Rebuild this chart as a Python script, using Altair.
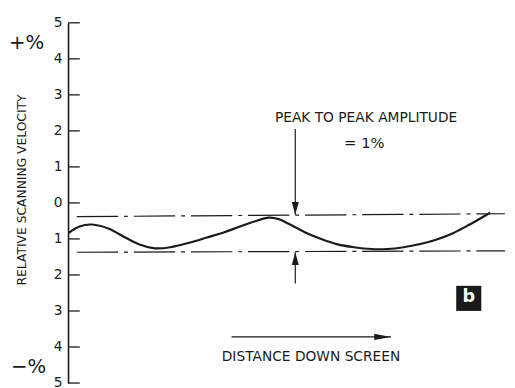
import altair as alt
import pandas as pd

# ---- data ----
y_ticks = [-5, -4, -3, -2, -1, 0, 1, 2, 3, 4, 5]
curve_x = [0.2, 2.5, 5.4, 9.2, 13.1, 16.7, 19.8, 23.4, 27.9, 31.8, 35.6, 39.2,
           43.0, 45.9, 48.2, 50.5, 54.3, 58.1, 61.7, 65.5, 69.4, 73.0, 76.8,
           80.6, 84.2, 88.1, 91.9, 95.5, 96.6]
curve_y = [-0.83, -0.66, -0.60, -0.71, -0.96, -1.17, -1.26, -1.23, -1.10, -0.96,
           -0.82, -0.66, -0.50, -0.41, -0.45, -0.58, -0.82, -1.01, -1.15, -1.23,
           -1.28, -1.28, -1.23, -1.14, -1.02, -0.84, -0.60, -0.35, -0.27]
band_x1 = [2, 2]
band_x2 = [100, 100]
band_y1 = [-0.38, -1.37]
band_y2 = [-0.30, -1.33]
y_title = "RELATIVE SCANNING VELOCITY"
note1 = "PEAK TO PEAK AMPLITUDE"
note2 = "= 1%"
x_note = "DISTANCE DOWN SCREEN"

FONT = "DejaVu Sans"
INK = "#1a1a1a"
xs = alt.Scale(domain=[0, 100])
ys = alt.Scale(domain=[-5, 5])
YAX = alt.Axis(values=y_ticks, labelExpr="abs(datum.value)", ticks=False, grid=False,
               domain=True, domainColor=INK, domainWidth=1.6, labelFont=FONT,
               labelFontSize=14, labelColor=INK, labelPadding=6, title=None)

curve_df = pd.DataFrame({"x": curve_x, "y": curve_y})
band_df = pd.DataFrame({"x": band_x1, "x2": band_x2, "y": band_y1, "y2": band_y2})
tick_df = pd.DataFrame({"v": y_ticks})

axis_layer = alt.Chart(tick_df).mark_rule(color=INK, strokeWidth=1.3).encode(
    y=alt.Y("v:Q", scale=ys, axis=YAX),
    x=alt.value(0), x2=alt.value(12),
)

curve = alt.Chart(curve_df).mark_line(color=INK, strokeWidth=2.2, interpolate="cardinal").encode(
    x=alt.X("x:Q", scale=xs, axis=None),
    y=alt.Y("y:Q", scale=ys, axis=YAX),
)

bands = alt.Chart(band_df).mark_rule(color=INK, strokeWidth=1.2, strokeDash=[42, 6, 4, 6]).encode(
    x=alt.X("x:Q", scale=xs, axis=None), x2="x2:Q",
    y=alt.Y("y:Q", scale=ys, axis=YAX), y2="y2:Q",
)

def seg(x1, y1, x2, y2, w=1.2):
    d = pd.DataFrame({"x": [x1], "y": [y1], "x2": [x2], "y2": [y2]})
    return alt.Chart(d).mark_rule(color=INK, strokeWidth=w).encode(
        x=alt.X("x:Q", scale=xs, axis=None), x2="x2:Q",
        y=alt.Y("y:Q", scale=ys, axis=YAX), y2="y2:Q")

def head(x, y, shape, dx=0, dy=0, size=169):
    d = pd.DataFrame({"x": [x], "y": [y]})
    return alt.Chart(d).mark_point(shape=shape, filled=True, color=INK, opacity=1,
                                   size=size, xOffset=dx, yOffset=dy).encode(
        x=alt.X("x:Q", scale=xs, axis=None), y=alt.Y("y:Q", scale=ys, axis=YAX))

down_stem = seg(52.0, 2.05, 52.0, -0.33)
down_head = head(52.0, -0.33, "M-0.55,-1L0.55,-1L0,1Z", dy=-6.5)
up_stem = seg(52.0, -1.37, 52.0, -2.24)
up_head = head(52.0, -1.37, "M-0.55,1L0.55,1L0,-1Z", dy=6.5)
h_stem = seg(37.4, -3.72, 73.9, -3.72)
h_head = head(73.9, -3.72, "M-1,-0.38L1,0L-1,0.38Z", dx=-8.5, size=289)

def label(txt, x, y, size=12, angle=0, color=INK, weight="normal"):
    d = pd.DataFrame({"t": [txt], "x": [x], "y": [y]})
    return alt.Chart(d).mark_text(font=FONT, fontSize=size, color=color, angle=angle,
                                  align="center", baseline="middle", fontWeight=weight).encode(
        x=alt.X("x:Q", scale=xs, axis=None), y=alt.Y("y:Q", scale=ys, axis=YAX), text="t:N")

t1 = label(note1, 68.2, 2.35, size=14)
t2 = label(note2, 67.8, 1.67, size=15)
t3 = label(x_note, 55.6, -4.29, size=14)
t_plus = label("+%", -9.5, 4.43, size=20)
t_minus = label("\u2212%", -9.0, -4.56, size=20)
t_title = label(y_title, -10.6, 0.36, size=12.5, angle=270)

box = alt.Chart(pd.DataFrame({"x": [91.7], "y": [-2.65]})).mark_point(
    shape="square", filled=True, color=INK, opacity=1, size=650).encode(
    x=alt.X("x:Q", scale=xs, axis=None), y=alt.Y("y:Q", scale=ys, axis=YAX))
b_txt = label("b", 91.7, -2.62, size=18, color="white", weight="bold")

chart = alt.layer(
    axis_layer, bands, curve, down_stem, down_head, up_stem, up_head, h_stem, h_head,
    t1, t2, t3, t_plus, t_minus, t_title, box, b_txt
).properties(
    width=444, height=366,
    padding={"left": 61, "top": 12, "right": 2, "bottom": 2},
    autosize="none", background="white",
).configure_view(stroke=None)

chart.save("out.html", embed_options={"renderer": "svg", "actions": False})
